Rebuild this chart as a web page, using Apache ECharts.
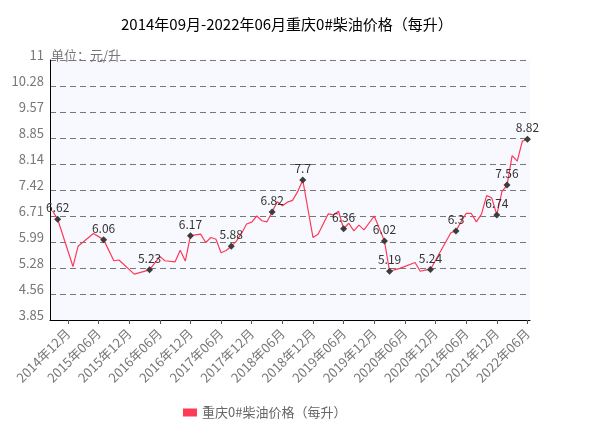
<!DOCTYPE html>
<html>
<head>
<meta charset="utf-8">
<script src="https://cdn.jsdelivr.net/npm/echarts@6/dist/echarts.min.js"></script>
<style>html,body{margin:0;padding:0;background:#fff;}#c{width:610px;height:436px;}</style>
</head>
<body>
<div id="c"></div>
<script>
// Categories: months from 2014-09 to 2022-06
var START_YEAR = 2014, START_MONTH = 9, MONTH_COUNT = 94;
var MONTHS = [];
for (var i = 0; i < MONTH_COUNT; i++) {
  var m = START_MONTH - 1 + i;
  var y = START_YEAR + Math.floor(m / 12);
  var mm = (m % 12) + 1;
  MONTHS.push(y + '年' + (mm < 10 ? '0' + mm : mm) + '月');
}

// Price values per month (null = no vertex visible; line runs straight through)
var PRICES = [
  6.85, 6.62, null, null, 5.32, 5.88, null, null, 6.23, null,
  6.06, null, 5.48, 5.50, null, null, 5.11, null, null, 5.23,
  null, 5.60, 5.48, null, 5.45, 5.77, 5.47, 6.17, null, 6.21,
  5.98, 6.12, 6.07, 5.70, 5.76, 5.88, 6.02, 6.23, 6.49, 6.54,
  6.71, 6.58, 6.55, 6.82, 7.10, 6.99, 7.09, 7.14, 7.38, 7.70,
  null, 6.12, 6.21, null, 6.77, 6.74, 6.84, 6.36, 6.51, 6.30,
  6.46, 6.33, null, 6.71, null, 6.02, 5.19, null, 5.27, null,
  null, 5.43, 5.19, 5.22, 5.24, null, null, null, 6.25, 6.30,
  6.55, 6.78, 6.78, 6.55, 6.76, 7.27, 7.21, 6.74, 7.38, 7.56,
  8.37, 8.22, 8.77, 8.82
];

// Month indices with a marker and value label
var MARKED = [1, 10, 19, 27, 35, 43, 49, 57, 65, 66, 74, 79, 87, 89, 93];

// Y axis
var Y_MIN = 3.85, Y_MAX = 11, Y_STEP = 0.715;
var Y_TICK_LABELS = ['3.85', '4.56', '5.28', '5.99', '6.71', '7.42', '8.14', '8.85', '9.57', '10.28', '11'];

var SERIES_NAME = '重庆0#柴油价格（每升）';
var TITLE = '2014年09月-2022年06月重庆0#柴油价格（每升）';
var FONT = '"Noto Sans CJK SC", "DejaVu Sans", sans-serif';

var seriesData = PRICES.map(function (v, i) {
  if (MARKED.indexOf(i) >= 0) {
    return {
      value: v,
      symbol: 'diamond',
      symbolSize: 7,
      itemStyle: { color: '#3c3c3c' },
      label: { show: true, position: 'top', distance: 2, color: '#333', fontSize: 12, fontFamily: FONT }
    };
  }
  return v;
});

function labelInterval(idx) { return (idx - 3) % 6 === 0; }

var chart = echarts.init(document.getElementById('c'), null, { renderer: 'canvas' });
chart.setOption({
  animation: false,
  backgroundColor: '#ffffff',
  textStyle: { fontFamily: FONT },
  title: {
    text: TITLE,
    left: 116,
    top: 12,
    textStyle: { color: '#000', fontSize: 15, fontWeight: 'normal', fontFamily: FONT }
  },
  legend: {
    left: 178,
    top: 401,
    icon: 'rect',
    itemWidth: 14,
    itemHeight: 8,
    itemGap: 10,
    textStyle: { color: '#666', fontSize: 13, fontFamily: FONT },
    data: [SERIES_NAME]
  },
  grid: {
    left: 50, top: 60, width: 480, height: 260,
    show: true, backgroundColor: '#f8f9ff', borderWidth: 0
  },
  xAxis: {
    type: 'category',
    data: MONTHS,
    boundaryGap: true,
    axisLine: { show: true, lineStyle: { color: '#000', width: 1 } },
    axisTick: { show: true, alignWithLabel: true, interval: labelInterval, length: 4, lineStyle: { color: '#555' } },
    axisLabel: { interval: labelInterval, rotate: 45, color: '#777', fontSize: 13, margin: 11, fontFamily: FONT },
    splitLine: { show: false }
  },
  yAxis: {
    type: 'value',
    min: Y_MIN,
    max: Y_MAX,
    interval: Y_STEP,
    name: '单位：元/升',
    nameLocation: 'end',
    nameGap: 5,
    nameTextStyle: { align: 'left', verticalAlign: 'middle', color: '#777', fontSize: 13, padding: [0, 0, 0, 1], fontFamily: FONT },
    axisLine: { show: true, lineStyle: { color: '#000', width: 1 } },
    axisTick: { show: false },
    axisLabel: {
      color: '#777', fontSize: 13, margin: 6, verticalAlign: 'bottom', lineHeight: 10, fontFamily: FONT,
      formatter: function (v) { return Y_TICK_LABELS[Math.round((v - Y_MIN) / Y_STEP)]; }
    },
    splitLine: { show: true, lineStyle: { color: '#777', type: [6, 4], width: 1 } }
  },
  series: [{
    name: SERIES_NAME,
    type: 'line',
    data: seriesData,
    connectNulls: true,
    symbol: 'none',
    showSymbol: true,
    showAllSymbol: true,
    itemStyle: { color: '#ff3a55' },
    lineStyle: { color: '#ff3a55', width: 1.2 },
    labelLayout: { hideOverlap: false },
    emphasis: { disabled: true }
  }]
});
</script>
</body>
</html>
